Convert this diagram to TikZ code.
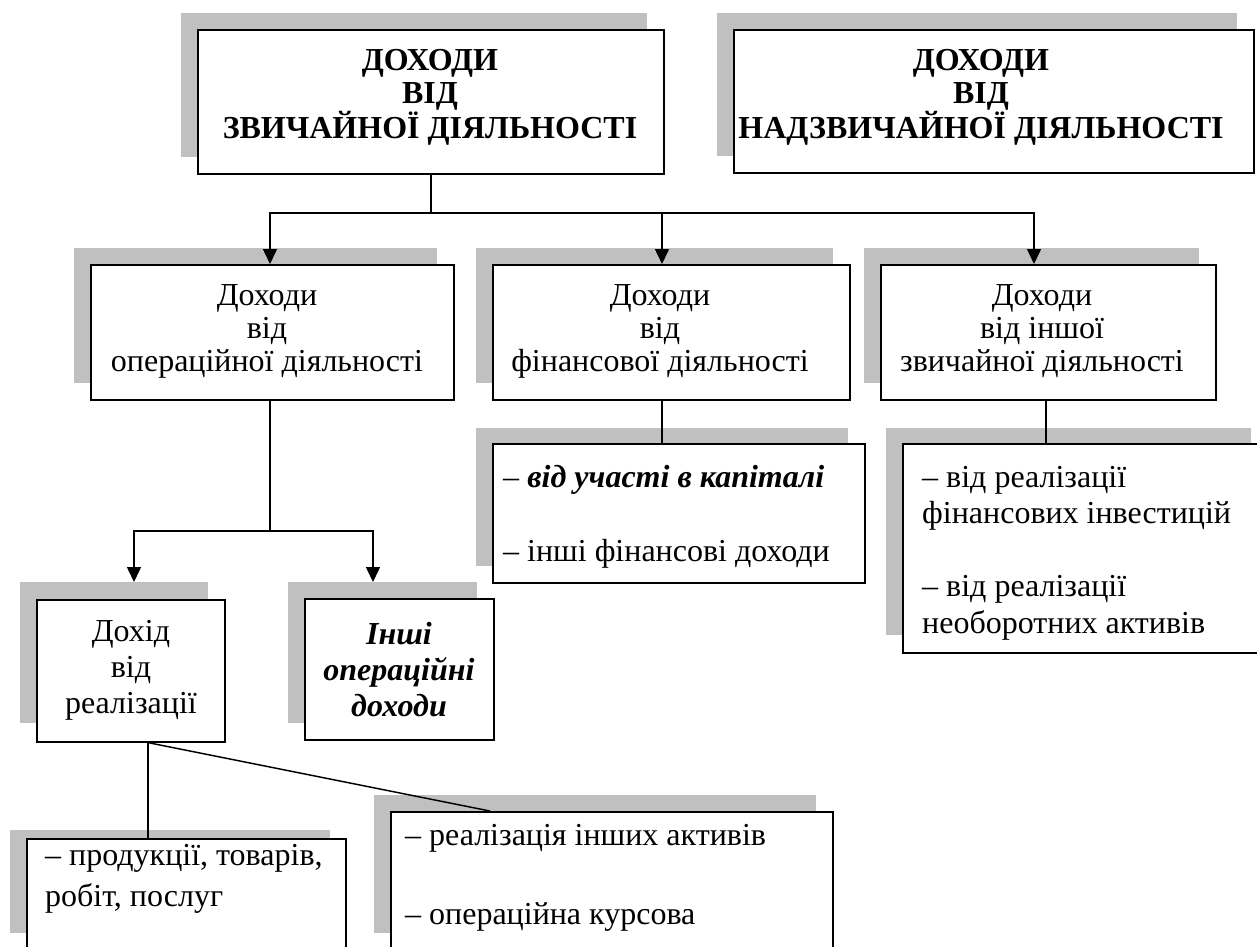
\documentclass[tikz,border=0pt]{standalone}
\usepackage{fontspec}
\setmainfont{Liberation Serif}
\usetikzlibrary{arrows.meta}
\definecolor{shadowgray}{RGB}{192,192,192}
\tikzset{
  frame/.style={draw, line width=1.6pt, fill=white, inner sep=0pt, anchor=north west},
  backshade/.style={fill=shadowgray, draw=none, inner sep=0pt, anchor=north west},
  link/.style={line width=1.5pt},
  arr/.style={link, -{Triangle[width=14pt,length=15pt]}},
  headtext/.style={align=center, inner sep=0pt, font=\bfseries\fontsize{32}{33}\selectfont},
  midtext/.style={align=center, inner sep=0pt, font=\fontsize{32}{33}\selectfont},
  lowtext/.style={align=center, inner sep=0pt, font=\fontsize{32}{36}\selectfont},
  listtext/.style={align=left, anchor=west, inner sep=0pt},
}
% \panel{name}{x1}{y1}{x2}{y2}{sx1}{sy1}{sx2}{sy2}: framed box with its grey backing
\newcommand\panel[9]{%
  \node[backshade, minimum width={(#8-#6)*1pt}, minimum height={(#9-#7)*1pt}] (s#1) at (#6,#7) {};
  \node[frame, minimum width={(#4-#2)*1pt}, minimum height={(#5-#3)*1pt}] (#1) at (#2,#3) {};
}
\begin{document}
\begin{tikzpicture}[x=1pt, y=-1pt]
\path[use as bounding box, clip] (0,0) rectangle (1257,946);
\fill[white] (0,0) rectangle (1257,946);

% top level
\panel{b1}{197}{29}{663}{173}{181}{13}{647}{157}
\panel{b2}{733}{29}{1253}{172}{717}{13}{1237}{156}
% second level
\panel{bA}{90}{264}{453}{399}{74}{248}{437}{383}
\panel{bB}{492}{264}{849}{399}{476}{248}{833}{383}
\panel{bC}{880}{264}{1215}{399}{864}{248}{1199}{383}
% details of financial and other ordinary activity
\panel{bF}{492}{443}{864}{582}{476}{428}{848}{566}
\panel{bG}{902}{443}{1267}{652}{886}{428}{1251}{635}
% operating activity
\panel{bD}{36}{599}{224}{741}{20}{582}{208}{723}
\panel{bE}{304}{598}{493}{739}{288}{582}{477}{723}
% sales revenue
\panel{bH}{26}{838}{345}{950}{10}{830}{330}{933}
\panel{bI}{390}{811}{832}{950}{374}{795}{816}{933}

% texts
\node[headtext] (t1) at (430,97) {ДОХОДИ\\ВІД\\ЗВИЧАЙНОЇ ДІЯЛЬНОСТІ};
\node[headtext] (t2) at (981,97) {ДОХОДИ\\ВІД\\НАДЗВИЧАЙНОЇ ДІЯЛЬНОСТІ};
\node[midtext] (tA) at (267,331) {Доходи\\від\\операційної діяльності};
\node[midtext] (tB) at (660,331) {Доходи\\від\\фінансової діяльності};
\node[midtext] (tC) at (1042,331) {Доходи\\від іншої\\звичайної діяльності};
\node[lowtext] (tD) at (131,670) {Дохід\\від\\реалізації};
\node[lowtext, font=\bfseries\itshape\fontsize{32}{36}\selectfont] (tE) at (399,670) {Інші\\операційні\\доходи};
\node[listtext, font=\fontsize{32}{37}\selectfont] (tF) at (503,517)
  {– \textbf{\textit{від участі в капіталі}}\\[37pt]– інші фінансові доходи};
\node[listtext, font=\fontsize{32}{36.5}\selectfont] (tG) at (922,553)
  {– від реалізації\\фінансових інвестицій\\[36.5pt]– від реалізації\\необоротних активів};
\node[listtext, font=\fontsize{32}{41}\selectfont] (tH) at (45,879)
  {– продукції, товарів,\\робіт, послуг};
\node[listtext, font=\fontsize{32}{39.5}\selectfont] (tI) at (405,878)
  {– реалізація інших активів\\[39.5pt]– операційна курсова};

% connectors
\coordinate (j1) at (b1.south |- 0,213);
\draw[link] (b1.south) -- (j1);
\draw[arr] (j1) -| (270,0 |- bA.north);
\draw[arr] (j1) -| (1034,0 |- bC.north);
\draw[arr] (662,0 |- j1) -- (662,0 |- bB.north);

\coordinate (j2) at (270,531);
\draw[link] (270,0 |- bA.south) -- (j2);
\draw[arr] (j2) -| (134,0 |- sbD.north);
\draw[arr] (j2) -| (373,0 |- sbE.north);

\draw[link] (662,0 |- bB.south) -- (662,0 |- bF.north);
\draw[link] (1046,0 |- bC.south) -- (1046,0 |- bG.north);

\draw[link] (148,0 |- bD.south) -- (148,0 |- bH.north);
\draw[link] (148,0 |- bD.south) -- (490,0 |- bI.north);
\end{tikzpicture}
\end{document}
